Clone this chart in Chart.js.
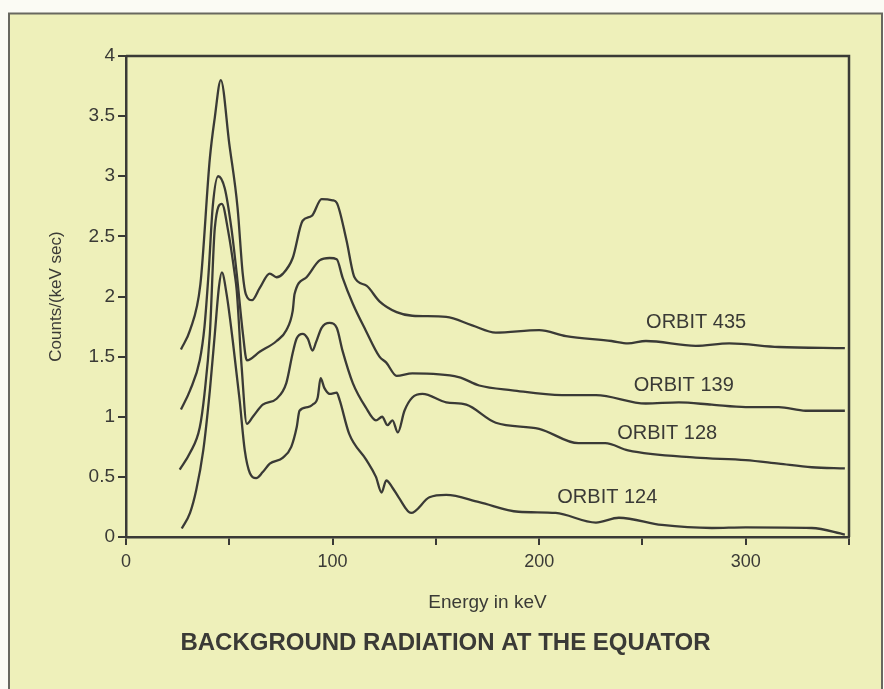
<!DOCTYPE html>
<html>
<head>
<meta charset="utf-8">
<script src="https://cdn.jsdelivr.net/npm/chart.js@4.4.1/dist/chart.umd.min.js"></script>
<style>
  body { margin: 0; background: #fff; }
  canvas { display: block; }
</style>
</head>
<body>
<canvas id="chart" width="884" height="689"></canvas>
<script>
// energy (keV) / counts per (keV sec)
const energy435 = [26.6, 31, 36, 40.6, 43, 45.9, 50, 54, 56.5, 58, 61, 64.7, 69.6, 72.9, 76, 80.7, 85.5, 89.9, 94.7, 100, 102, 106.7, 110.6, 116.4, 122.7, 131, 138.6, 155, 167.6, 179, 200, 213, 235, 243, 251.7, 275.8, 292, 316, 348];
const counts435 = [1.56, 1.72, 2.1, 3.15, 3.49, 3.8, 3.27, 2.74, 2.19, 2.02, 1.97, 2.07, 2.19, 2.16, 2.19, 2.32, 2.63, 2.67, 2.81, 2.8, 2.78, 2.47, 2.16, 2.09, 1.96, 1.87, 1.84, 1.83, 1.76, 1.7, 1.72, 1.67, 1.63, 1.61, 1.63, 1.59, 1.61, 1.58, 1.57];

const energy139 = [26.6, 31, 35.7, 38, 40, 42, 44.6, 47.8, 51, 53.6, 56.6, 58.5, 64.7, 72.9, 77.6, 80.7, 81.6, 87.4, 93.7, 98.6, 102, 104.8, 109.8, 116, 122.7, 126, 131, 138.6, 161, 171, 187, 211, 227.5, 251.6, 267.6, 283.6, 300, 316, 329, 348];
const counts139 = [1.06, 1.22, 1.47, 1.75, 2.2, 2.75, 3.0, 2.9, 2.57, 2.19, 1.69, 1.47, 1.54, 1.63, 1.72, 1.88, 2.02, 2.16, 2.3, 2.32, 2.31, 2.16, 1.94, 1.72, 1.5, 1.45, 1.34, 1.36, 1.33, 1.26, 1.22, 1.18, 1.18, 1.11, 1.12, 1.1, 1.08, 1.08, 1.05, 1.05];

const energy128 = [26, 31, 35.7, 38, 40.6, 43, 46.4, 49.4, 52.6, 53.6, 56, 58.5, 61.4, 66.2, 72.9, 77.6, 80.7, 82.6, 85.5, 88, 90.3, 92, 94.7, 98.6, 102, 104.8, 109.8, 116, 121, 124, 126.6, 129, 131.6, 134.8, 138.6, 143.5, 155, 164.7, 179, 200, 219, 232, 243, 275.8, 300, 316, 332, 348];
const counts128 = [0.56, 0.7, 0.91, 1.19, 1.69, 2.57, 2.77, 2.55, 2.19, 2.05, 1.41, 0.94, 1.0, 1.1, 1.15, 1.28, 1.53, 1.65, 1.69, 1.65, 1.55, 1.62, 1.74, 1.78, 1.74, 1.55, 1.28, 1.08, 0.97, 1.0, 0.93, 0.97, 0.87, 1.05, 1.16, 1.19, 1.12, 1.1, 0.95, 0.9, 0.78, 0.78, 0.72, 0.66, 0.64, 0.61, 0.58, 0.57];

const energy124 = [27, 31, 34, 37.4, 40.6, 43, 45, 46.4, 48.7, 51.7, 55, 57.5, 60, 63, 66.2, 69.6, 76, 80, 82.6, 84, 88, 90.3, 92.8, 94.2, 96, 98.6, 102, 103.4, 108, 116.4, 121, 123.7, 126, 129, 132, 138, 146.9, 155, 171, 190, 208, 227.5, 238.6, 259.4, 283.6, 300, 332, 348];
const counts124 = [0.07, 0.2, 0.39, 0.72, 1.22, 1.69, 2.08, 2.2, 2.02, 1.63, 1.14, 0.72, 0.53, 0.49, 0.54, 0.61, 0.66, 0.75, 0.91, 1.05, 1.08, 1.1, 1.16, 1.32, 1.24, 1.19, 1.2, 1.14, 0.86, 0.64, 0.5, 0.37, 0.47, 0.41, 0.33, 0.2, 0.33, 0.35, 0.29, 0.21, 0.2, 0.12, 0.16, 0.1, 0.075, 0.08, 0.075, 0.02];

const orbitNames = ["ORBIT 435", "ORBIT 139", "ORBIT 128", "ORBIT 124"];
// where each name sits, in keV / counts
const labelAt = [[276, 1.78], [270, 1.26], [262, 0.86], [233, 0.33]];

const ink = "#3a3a36";
const paper = "#eef0ba";

function pts(xs, ys) {
  return xs.map((x, i) => ({ x: x, y: ys[i] }));
}

function line(name, xs, ys) {
  return {
    label: name,
    data: pts(xs, ys),
    borderColor: ink,
    borderWidth: 2.3,
    pointRadius: 0,
    fill: false,
    cubicInterpolationMode: "monotone",
  };
}

const paperPlugin = {
  id: "paper",
  beforeDraw(chart) {
    const ctx = chart.ctx;
    ctx.save();
    ctx.fillStyle = "#fbfbf4";
    ctx.fillRect(0, 0, chart.width, chart.height);
    ctx.fillStyle = paper;
    ctx.fillRect(8, 13, 875, chart.height);
    ctx.strokeStyle = "#68685f";
    ctx.lineWidth = 2;
    ctx.beginPath();
    ctx.moveTo(9, chart.height);
    ctx.lineTo(9, 13.5);
    ctx.lineTo(882, 13.5);
    ctx.lineTo(882, chart.height);
    ctx.stroke();
    ctx.restore();
  },
  afterDatasetsDraw(chart) {
    const { ctx, chartArea: a, scales } = chart;
    ctx.save();
    // top and right sides of the plot box
    ctx.strokeStyle = ink;
    ctx.lineWidth = 2.5;
    ctx.beginPath();
    ctx.moveTo(a.left, a.top);
    ctx.lineTo(a.right, a.top);
    ctx.lineTo(a.right, a.bottom);
    ctx.stroke();
    // orbit names
    ctx.fillStyle = ink;
    ctx.font = "20px 'Liberation Sans', Arial, sans-serif";
    ctx.textAlign = "center";
    ctx.textBaseline = "middle";
    orbitNames.forEach((name, i) => {
      ctx.fillText(name, scales.x.getPixelForValue(labelAt[i][0]), scales.y.getPixelForValue(labelAt[i][1]));
    });
    ctx.restore();
  },
};

const config = {
  type: "line",
  data: {
    datasets: [
      line(orbitNames[0], energy435, counts435),
      line(orbitNames[1], energy139, counts139),
      line(orbitNames[2], energy128, counts128),
      line(orbitNames[3], energy124, counts124),
    ],
  },
  options: {
    responsive: false,
    devicePixelRatio: 1,
    animation: false,
    layout: { padding: { left: 42, top: 56, right: 35, bottom: 31.6 } },
    plugins: {
      legend: { display: false },
      tooltip: { enabled: false },
      title: {
        display: true,
        position: "bottom",
        text: "BACKGROUND RADIATION AT THE EQUATOR",
        color: ink,
        font: { family: "'Liberation Sans', Arial, sans-serif", size: 24, weight: "bold" },
        padding: { top: 10.2, bottom: 0 },
      },
    },
    scales: {
      x: {
        type: "linear",
        min: 0,
        max: 350,
        afterFit(s) { s.height = 81.4; },
        ticks: {
          stepSize: 50,
          color: ink,
          padding: 6,
          maxRotation: 0,
          font: { family: "'Liberation Sans', Arial, sans-serif", size: 18 },
          callback: (v) => (v % 100 === 0 && v <= 300 ? v : ""),
        },
        grid: { drawOnChartArea: false, tickLength: 8, color: ink, lineWidth: 2 },
        border: { color: ink, width: 2.5 },
        title: {
          display: true,
          text: "Energy in keV",
          color: ink,
          font: { family: "'Liberation Sans', Arial, sans-serif", size: 19 },
        },
      },
      y: {
        min: 0,
        max: 4,
        afterFit(s) { s.width = 84; },
        ticks: {
          stepSize: 0.5,
          color: ink,
          padding: 3,
          font: { family: "'Liberation Sans', Arial, sans-serif", size: 19 },
          callback: (v) => String(Number(v)),
        },
        grid: { drawOnChartArea: false, tickLength: 8, color: ink, lineWidth: 2 },
        border: { color: ink, width: 2.5 },
        title: {
          display: true,
          text: "Counts/(keV sec)",
          color: ink,
          font: { family: "'Liberation Sans', Arial, sans-serif", size: 17 },
        },
      },
    },
  },
  plugins: [paperPlugin],
};

const chart = new Chart(document.getElementById("chart"), config);
</script>
</body>
</html>
